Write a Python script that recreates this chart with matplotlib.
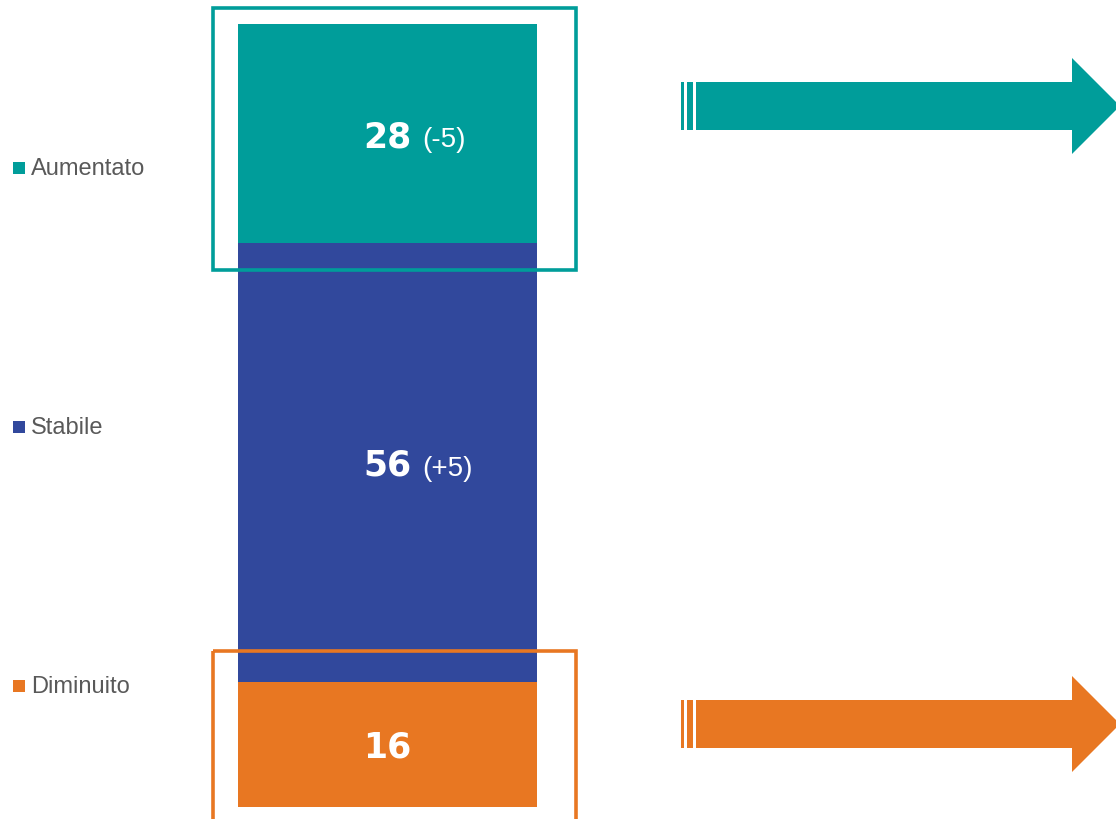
import matplotlib
matplotlib.use("Agg")
import matplotlib.pyplot as plt
from matplotlib.patches import Rectangle, Polygon

# data (stacked from the bottom up)
categories = ["Diminuito", "Stabile", "Aumentato"]
values = [16, 56, 28]
changes = ["", "(+5)", "(-5)"]
colors = ["#E87722", "#31489C", "#009D9A"]

legend_order = ["Aumentato", "Stabile", "Diminuito"]

W, H = 1116, 820
fig = plt.figure(figsize=(W / 100, H / 100), dpi=100)

# bar axes: bar spans x 238..537 px, y 25..808 px
ax = fig.add_axes([238 / W, (H - 808) / H, (537 - 238) / W, (808 - 25) / H])
ax.set_xlim(-0.5, 0.5)
ax.set_ylim(0, sum(values))
ax.axis("off")

bottom = 0
for cat, val, chg, col in zip(categories, values, changes, colors):
    ax.bar(0, val, width=1.0, bottom=bottom, color=col, linewidth=0)
    mid = bottom + val / 2
    num = ax.annotate(str(val), xy=(0, mid), xytext=(0, -9), textcoords="offset points",
                      ha="center", va="baseline", color="white", fontsize=25,
                      fontweight="bold", family="DejaVu Sans")
    if chg:
        ax.annotate(chg, xy=(1, mid), xycoords=(num, "data"), xytext=(8, -9),
                    textcoords="offset points", ha="left", va="baseline",
                    color="white", fontsize=20, family="Liberation Sans")
    bottom += val

# overlay in pixel coordinates for frames, arrows and legend
ov = fig.add_axes([0, 0, 1, 1])
ov.set_xlim(0, W)
ov.set_ylim(H, 0)
ov.axis("off")
ov.patch.set_alpha(0)

col_of = dict(zip(categories, colors))

# frames
ov.add_patch(Rectangle((213, 9), 363, 262, fill=False, edgecolor=col_of["Aumentato"], linewidth=2.6))
ov.add_patch(Rectangle((213, 652), 363, 200, fill=False, edgecolor=col_of["Diminuito"], linewidth=2.6))


def arrow(yc, color):
    body = [(696, yc - 24), (1072, yc - 24), (1072, yc - 48), (1120, yc),
            (1072, yc + 48), (1072, yc + 24), (696, yc + 24)]
    ov.add_patch(Polygon(body, closed=True, facecolor=color, edgecolor="none"))
    for x0, x1 in [(681, 683.5), (687, 693)]:
        ov.add_patch(Rectangle((x0, yc - 24), x1 - x0, 48, facecolor=color, edgecolor="none"))


arrow(107, col_of["Aumentato"])
arrow(725, col_of["Diminuito"])

# legend
for name, y in zip(legend_order, [169, 428, 687]):
    ov.add_patch(Rectangle((13, y - 6), 12, 12, facecolor=col_of[name], edgecolor="none"))
    ov.text(31, y, name, ha="left", va="center", color="#595959", fontsize=17,
            family="Liberation Sans")

fig.savefig("out.png", dpi=100)
